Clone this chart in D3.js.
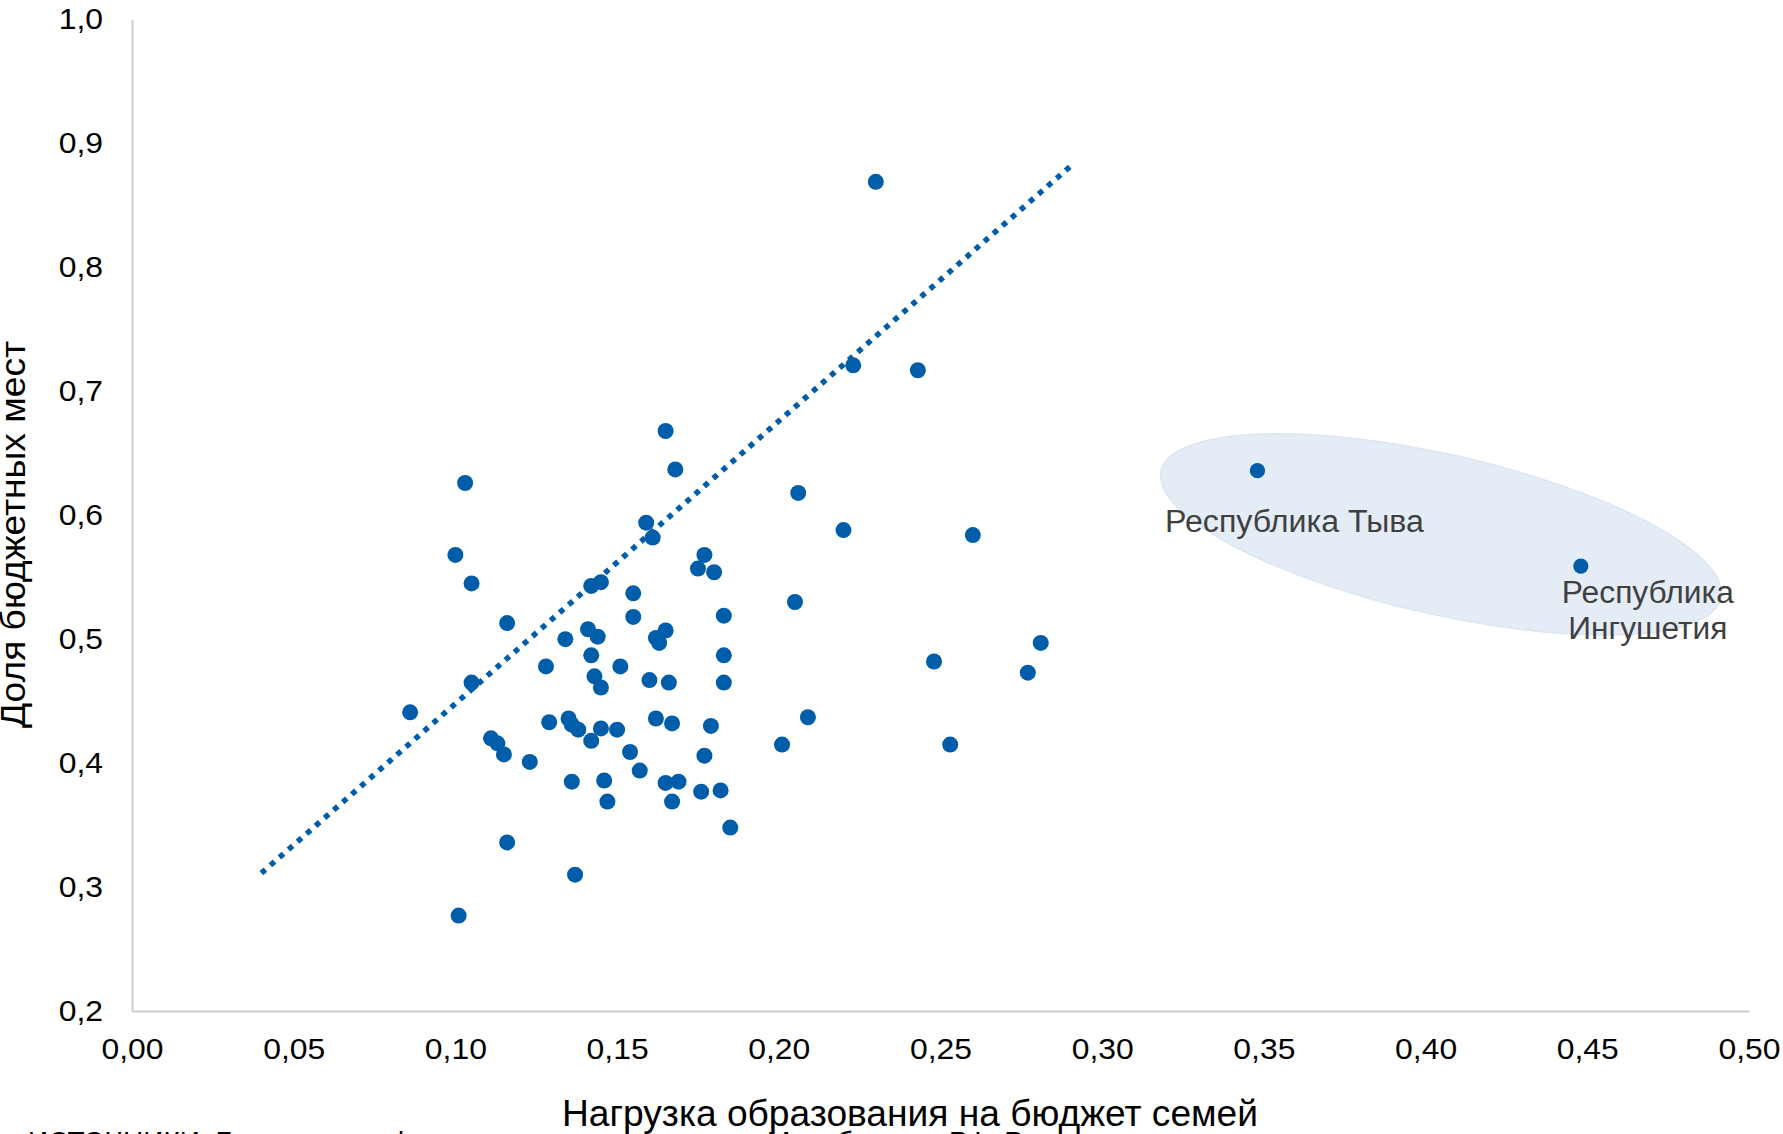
<!DOCTYPE html>
<html lang="ru">
<head>
<meta charset="utf-8">
<script src="https://cdn.jsdelivr.net/npm/d3@7"></script>
<style>
  html, body { margin: 0; padding: 0; background: #fff; overflow: hidden; }
  svg { display: block; font-family: "Liberation Sans", Arial, sans-serif; }
</style>
</head>
<body>
<svg id="chart" width="1783" height="1134"></svg>
<script>
// ---- Data ----
const xTickValues = [0, 0.05, 0.10, 0.15, 0.20, 0.25, 0.30, 0.35, 0.40, 0.45, 0.50];
const xTickLabels = ["0,00","0,05","0,10","0,15","0,20","0,25","0,30","0,35","0,40","0,45","0,50"];
const yTickValues = [0.2, 0.3, 0.4, 0.5, 0.6, 0.7, 0.8, 0.9, 1.0];
const yTickLabels = ["0,2","0,3","0,4","0,5","0,6","0,7","0,8","0,9","1,0"];

// Regions: burden of education on family budget (x) vs share of budget-funded places (y)
const xValues = [
  0.165, 0.168, 0.103, 0.159, 0.161, 0.100, 0.177, 0.175, 0.180, 0.105,
  0.142, 0.145, 0.155, 0.116, 0.155, 0.183, 0.141, 0.144, 0.134, 0.162,
  0.165, 0.163, 0.142, 0.128, 0.151, 0.183, 0.143, 0.160, 0.166, 0.183,
  0.105, 0.145, 0.086, 0.129, 0.135, 0.136, 0.138, 0.142, 0.145, 0.150,
  0.162, 0.167, 0.179, 0.111, 0.113, 0.115, 0.123, 0.154, 0.157, 0.177,
  0.136, 0.146, 0.147, 0.165, 0.169, 0.176, 0.182, 0.167, 0.185, 0.116,
  0.137, 0.101, 0.230, 0.223, 0.243, 0.206, 0.220, 0.260, 0.205, 0.281,
  0.248, 0.277, 0.209, 0.201, 0.253
];
const yValues = [
  0.668, 0.637, 0.626, 0.594, 0.582, 0.568, 0.568, 0.557, 0.554, 0.545,
  0.543, 0.546, 0.537, 0.513, 0.518, 0.519, 0.508, 0.502, 0.500, 0.501,
  0.507, 0.497, 0.487, 0.478, 0.478, 0.487, 0.470, 0.467, 0.465, 0.465,
  0.465, 0.461, 0.441, 0.433, 0.436, 0.431, 0.427, 0.418, 0.428, 0.427,
  0.436, 0.432, 0.430, 0.420, 0.416, 0.407, 0.401, 0.409, 0.394, 0.406,
  0.385, 0.386, 0.369, 0.384, 0.385, 0.377, 0.378, 0.369, 0.348, 0.336,
  0.310, 0.277, 0.869, 0.721, 0.717, 0.618, 0.588, 0.584, 0.530, 0.497,
  0.482, 0.473, 0.437, 0.415, 0.415
];

// Highlighted outliers
const outlierNames = ["Республика Тыва", "Республика Ингушетия"];
const outlierX = [0.348, 0.448];
const outlierY = [0.636, 0.559];

// Linear trend line (dotted)
const trendX = [0.04, 0.29];
const trendIntercept = 0.22;
const trendSlope = 2.28;

const xTitle = "Нагрузка образования на бюджет семей";
const yTitle = "Доля бюджетных мест";
const sourceText = "ИСТОЧНИКИ: Банк данных федерального мониторинга, Минобрнауки РФ, Росстат";

// ---- Layout ----
const plotLeft = 132, plotRight = 1749, plotTop = 19.5, plotBottom = 1011;
const blue = "#005DAA";

const svg = d3.select("#chart");
const x = d3.scaleLinear().domain([0, 0.5]).range([plotLeft, plotRight]);
const y = d3.scaleLinear().domain([0.2, 1.0]).range([plotBottom, plotTop]);

function stretch(sel, k) {
  sel.each(function () {
    const w = this.getComputedTextLength();
    this.setAttribute("textLength", w * k);
    this.setAttribute("lengthAdjust", "spacingAndGlyphs");
  });
}
function fitTo(sel, w) {
  sel.attr("textLength", w).attr("lengthAdjust", "spacingAndGlyphs");
}

// Highlight ellipse around the outliers
const ellCx = x((outlierX[0] + outlierX[1]) / 2) + 22;
const ellCy = y((outlierY[0] + outlierY[1]) / 2) + 16;
svg.append("ellipse")
  .attr("cx", 0).attr("cy", 0)
  .attr("rx", 287).attr("ry", 80)
  .attr("transform", `translate(${ellCx},${ellCy}) rotate(12.8)`)
  .attr("fill", "#e4ecf6")
  .attr("stroke", "#dde6f2")
  .attr("stroke-width", 1.5);

// Axes
const gx = svg.append("g")
  .attr("transform", `translate(0,${plotBottom})`)
  .call(d3.axisBottom(x).tickValues(xTickValues)
        .tickFormat((d, i) => xTickLabels[i]).tickSize(0).tickSizeOuter(0).tickPadding(27));
const gy = svg.append("g")
  .attr("transform", `translate(${plotLeft},0)`)
  .call(d3.axisLeft(y).tickValues(yTickValues)
        .tickFormat((d, i) => yTickLabels[i]).tickSize(0).tickSizeOuter(0).tickPadding(29));

[gx, gy].forEach(g => {
  g.attr("font-family", null).attr("font-size", null);
  g.select(".domain").attr("stroke", "#cccccc").attr("stroke-width", 2);
  g.selectAll(".tick text").attr("fill", "#000").style("font-size", "29px");
});
stretch(gx.selectAll(".tick text"), 1.1);
stretch(gy.selectAll(".tick text"), 1.1);

// Trend line
const trendData = trendX.map(v => [v, trendIntercept + trendSlope * v]);
svg.append("path")
  .attr("d", d3.line().x(d => x(d[0])).y(d => y(d[1]))(trendData))
  .attr("fill", "none")
  .attr("stroke", blue)
  .attr("stroke-width", 5.5)
  .attr("stroke-dasharray", "5.5 6.5");

// Points
const pts = xValues.map((v, i) => ({ x: v, y: yValues[i] }));
svg.append("g").selectAll("circle").data(pts).join("circle")
  .attr("cx", d => x(d.x)).attr("cy", d => y(d.y))
  .attr("r", 8).attr("fill", blue);

const outliers = outlierNames.map((n, i) => ({ name: n, x: outlierX[i], y: outlierY[i] }));
svg.append("g").selectAll("circle").data(outliers).join("circle")
  .attr("cx", d => x(d.x)).attr("cy", d => y(d.y))
  .attr("r", 7.6).attr("fill", blue);

// Outlier labels
const lblColor = "#404040";
const t1 = svg.append("text")
  .attr("x", x(outliers[0].x) - 92.5).attr("y", y(outliers[0].y) + 61)
  .attr("fill", lblColor).style("font-size", "31px")
  .text(outliers[0].name);
fitTo(t1, 259);

const parts = outliers[1].name.split(" ");
const t2 = svg.append("text")
  .attr("x", x(outliers[1].x) + 67).attr("y", y(outliers[1].y) + 37.3)
  .attr("text-anchor", "middle")
  .attr("fill", lblColor).style("font-size", "31px")
  .text(parts[0]);
fitTo(t2, 172);
const t3 = svg.append("text")
  .attr("x", x(outliers[1].x) + 67).attr("y", y(outliers[1].y) + 73.3)
  .attr("text-anchor", "middle")
  .attr("fill", lblColor).style("font-size", "31px")
  .text(parts[1]);
fitTo(t3, 159);

// Axis titles
const xt = svg.append("text")
  .attr("x", 910).attr("y", 1126)
  .attr("text-anchor", "middle")
  .attr("fill", "#000").style("font-size", "36px")
  .text(xTitle);
fitTo(xt, 696);

const yt = svg.append("text")
  .attr("transform", `translate(25,534.5) rotate(-90)`)
  .attr("text-anchor", "middle")
  .attr("fill", "#000").style("font-size", "35px")
  .text(yTitle);
fitTo(yt, 387);

// Source line (mostly cut off at the bottom edge)
svg.append("text")
  .attr("x", 28).attr("y", 1151)
  .attr("fill", "#000").style("font-size", "28px")
  .text(sourceText);
</script>
</body>
</html>
